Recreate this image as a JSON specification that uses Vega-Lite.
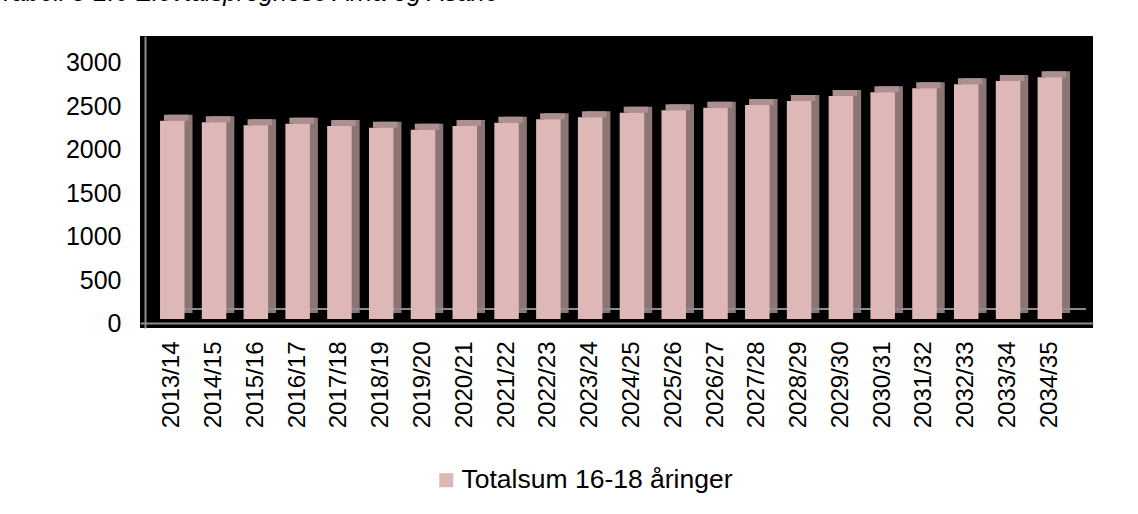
{
  "$schema": "https://vega.github.io/schema/vega-lite/v6.json",
  "width": 953,
  "height": 292,
  "autosize": {"type": "none"},
  "padding": {"left": 140, "top": 36, "right": 45, "bottom": 186},
  "background": "white",
  "config": {
    "font": "Liberation Sans",
    "view": {"fill": "black", "stroke": null}
  },
  "title": {
    "text": "Tabell 3-2.6 Elevtalsprognose Arna og Åsane",
    "anchor": "start",
    "frame": "group",
    "dx": -141,
    "offset": 10,
    "baseline": "alphabetic",
    "fontSize": 25,
    "fontStyle": "italic",
    "fontWeight": "normal",
    "color": "black"
  },
  "data": {
    "values": [
      {"year": "2013/14", "n": 2274},
      {"year": "2014/15", "n": 2256},
      {"year": "2015/16", "n": 2221},
      {"year": "2016/17", "n": 2240},
      {"year": "2017/18", "n": 2213},
      {"year": "2018/19", "n": 2194},
      {"year": "2019/20", "n": 2171},
      {"year": "2020/21", "n": 2213},
      {"year": "2021/22", "n": 2251},
      {"year": "2022/23", "n": 2290},
      {"year": "2023/24", "n": 2313},
      {"year": "2024/25", "n": 2366},
      {"year": "2025/26", "n": 2393},
      {"year": "2026/27", "n": 2423},
      {"year": "2027/28", "n": 2454},
      {"year": "2028/29", "n": 2500},
      {"year": "2029/30", "n": 2557},
      {"year": "2030/31", "n": 2600},
      {"year": "2031/32", "n": 2646},
      {"year": "2032/33", "n": 2692},
      {"year": "2033/34", "n": 2729},
      {"year": "2034/35", "n": 2772}
    ]
  },
  "layer": [
    {
      "mark": {"type": "bar", "color": "#8b7575", "xOffset": 8, "yOffset": -11, "y2Offset": -11},
      "encoding": {
        "x": {
          "field": "year",
          "type": "nominal",
          "sort": null,
          "scale": {"paddingInner": 0.4137, "paddingOuter": 0.6094, "align": 0.393},
          "axis": {
            "title": null,
            "labelAngle": -90,
            "labelFontSize": 24,
            "labelColor": "black",
            "ticks": false,
            "grid": false,
            "domainColor": "#8c8c8c",
            "domainWidth": 2,
            "offset": -5,
            "labelPadding": 18
          }
        },
        "y": {"field": "n", "type": "quantitative", "scale": {"domain": [-46, 3303], "nice": false, "zero": false}}
      }
    },
    {
      "mark": {"type": "rule", "color": "#8c8c8c", "strokeWidth": 2, "yOffset": -15, "xOffset": -12, "x2Offset": 36},
      "encoding": {
        "x": {"datum": "2013/14", "type": "nominal"},
        "x2": {"datum": "2034/35"},
        "y": {"datum": 0, "type": "quantitative"}
      }
    },
    {
      "mark": {"type": "bar", "color": "#ad8f8f", "xOffset": 4, "yOffset": -11, "y2Offset": -5},
      "encoding": {
        "x": {"field": "year", "type": "nominal", "sort": null},
        "y": {"field": "n", "type": "quantitative"},
        "y2": {"field": "n"}
      }
    },
    {
      "mark": {"type": "bar", "yOffset": -5, "y2Offset": -5},
      "encoding": {
        "x": {"field": "year", "type": "nominal", "sort": null},
        "y": {
          "field": "n",
          "type": "quantitative",
          "axis": {
            "title": null,
            "values": [0, 500, 1000, 1500, 2000, 2500, 3000],
            "format": "d",
            "labelFontSize": 25,
            "labelColor": "black",
            "ticks": false,
            "grid": false,
            "domainColor": "#8c8c8c",
            "domainWidth": 2,
            "offset": -5,
            "labelPadding": 24
          }
        },
        "color": {
          "datum": "Totalsum 16-18 åringer",
          "type": "nominal",
          "scale": {"range": ["#deb7b7"]},
          "legend": {
            "title": null,
            "orient": "none",
            "legendX": 293,
            "legendY": 431,
            "padding": 0,
            "symbolType": "square",
            "symbolSize": 196,
            "symbolStrokeWidth": 0,
            "labelFontSize": 26.5,
            "labelLimit": 0,
            "labelColor": "black",
            "labelOffset": 2
          }
        }
      }
    }
  ]
}
